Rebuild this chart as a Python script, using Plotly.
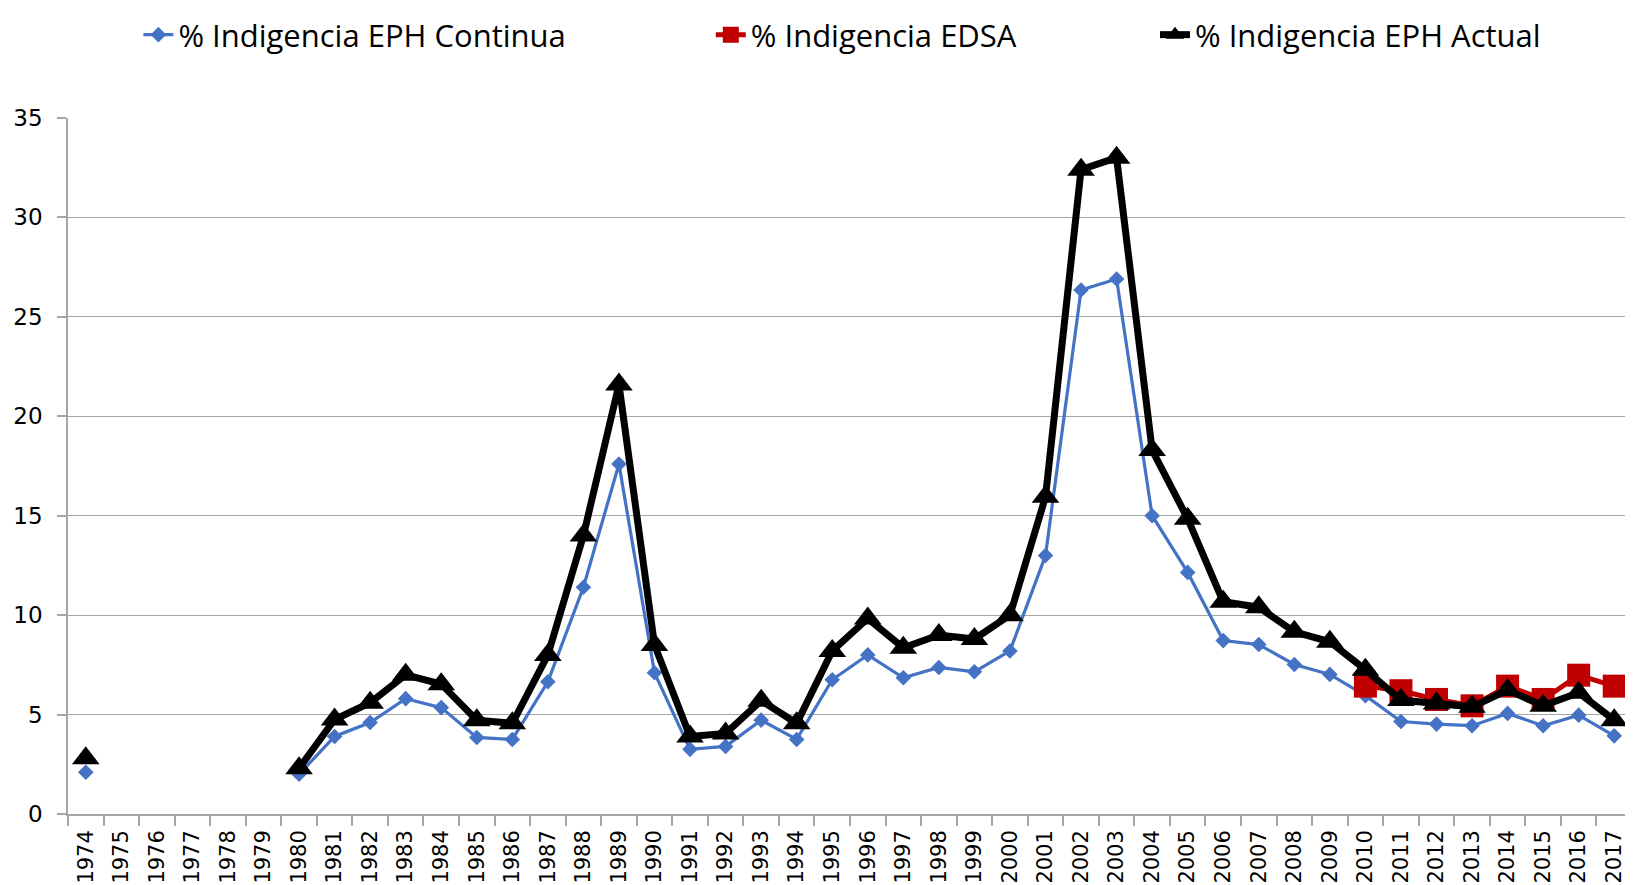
"""Indigencia: EPH continua, EDSA y EPH actual, 1974-2017"""

import plotly.graph_objects as go

years = [str(y) for y in range(1974, 2018)]

# None = sin dato (1975-1979)
eph_continua = [2.1, None, None, None, None, None,
                2.0, 3.9, 4.6, 5.8, 5.35, 3.85, 3.75, 6.65, 11.4, 17.6,
                7.1, 3.25, 3.4, 4.72, 3.75, 6.75, 8.0, 6.85, 7.37, 7.15,
                8.2, 13.0, 26.35, 26.9, 15.0, 12.15, 8.72, 8.52, 7.52, 7.02,
                5.95, 4.65, 4.52, 4.44, 5.06, 4.44, 4.97, 3.93]

edsa = [None] * 36 + [6.43, 6.2, 5.76, 5.44, 6.43, 5.76, 6.98, 6.43]

eph_actual = [2.8, None, None, None, None, None,
              2.3, 4.75, 5.6, 7.0, 6.53, 4.72, 4.56, 8.0, 14.0, 21.6,
              8.5, 3.9, 4.05, 5.7, 4.56, 8.2, 9.83, 8.36, 9.0, 8.8,
              10.0, 15.95, 32.4, 33.0, 18.3, 14.85, 10.67, 10.4, 9.16, 8.66,
              7.25, 5.73, 5.56, 5.39, 6.23, 5.44, 6.1, 4.72]

y_ticks = [0, 5, 10, 15, 20, 25, 30, 35]

fig = go.Figure()

fig.add_trace(go.Scatter(
    x=years, y=eph_continua, name="% Indigencia EPH Continua",
    mode="lines+markers", connectgaps=False, legend="legend",
    line=dict(color="#4472C4", width=3.2),
    marker=dict(symbol="diamond", size=12, color="#4472C4"),
))
fig.add_trace(go.Scatter(
    x=years, y=edsa, name="% Indigencia EDSA",
    mode="lines+markers", connectgaps=False, legend="legend2",
    line=dict(color="#C00000", width=5),
    marker=dict(symbol="square", size=23, color="#C00000"),
))
fig.add_trace(go.Scatter(
    x=years, y=eph_actual, name="% Indigencia EPH Actual",
    mode="lines+markers", connectgaps=False, legend="legend3",
    line=dict(color="#000000", width=7),
    marker=dict(symbol="triangle-up", size=24, color="#000000"),
))

# page body has an 8px margin, so the figure is 8px smaller each way
legend_style = dict(orientation="h", yref="container", yanchor="top", y=1.0,
                    xanchor="left",
                    font=dict(family="Open Sans", size=31, color="#000000"),
                    bgcolor="rgba(0,0,0,0)", itemsizing="trace")

fig.update_layout(
    width=1625, height=877,
    margin=dict(l=60, r=1, t=110, b=71, autoexpand=False),
    plot_bgcolor="white", paper_bgcolor="white",
    font=dict(family="DejaVu Sans", size=21, color="#000000"),
    showlegend=True,
    legend=dict(legend_style, x=0.045),
    legend2=dict(legend_style, x=0.411),
    legend3=dict(legend_style, x=0.695),
    xaxis=dict(
        type="category", tickangle=-90, range=[-0.5, len(years) - 0.5],
        automargin=False,
        showline=True, linecolor="#A6A6A6", linewidth=1.5,
        ticks="outside", tickson="boundaries", ticklen=10,
        tickcolor="#A6A6A6", tickwidth=1.5, ticklabelstandoff=6,
        showgrid=False, tickfont=dict(family="DejaVu Sans", size=21),
    ),
    yaxis=dict(
        range=[0, 35], tickvals=y_ticks, automargin=False,
        showline=True, linecolor="#A6A6A6", linewidth=1.5,
        ticks="outside", ticklen=9, tickcolor="#A6A6A6", tickwidth=1.5,
        showgrid=True, gridcolor="#A6A6A6", gridwidth=1.3,
        zeroline=False, ticklabelstandoff=10,
        tickfont=dict(family="DejaVu Sans", size=23),
    ),
)

fig.write_html("out.html")
